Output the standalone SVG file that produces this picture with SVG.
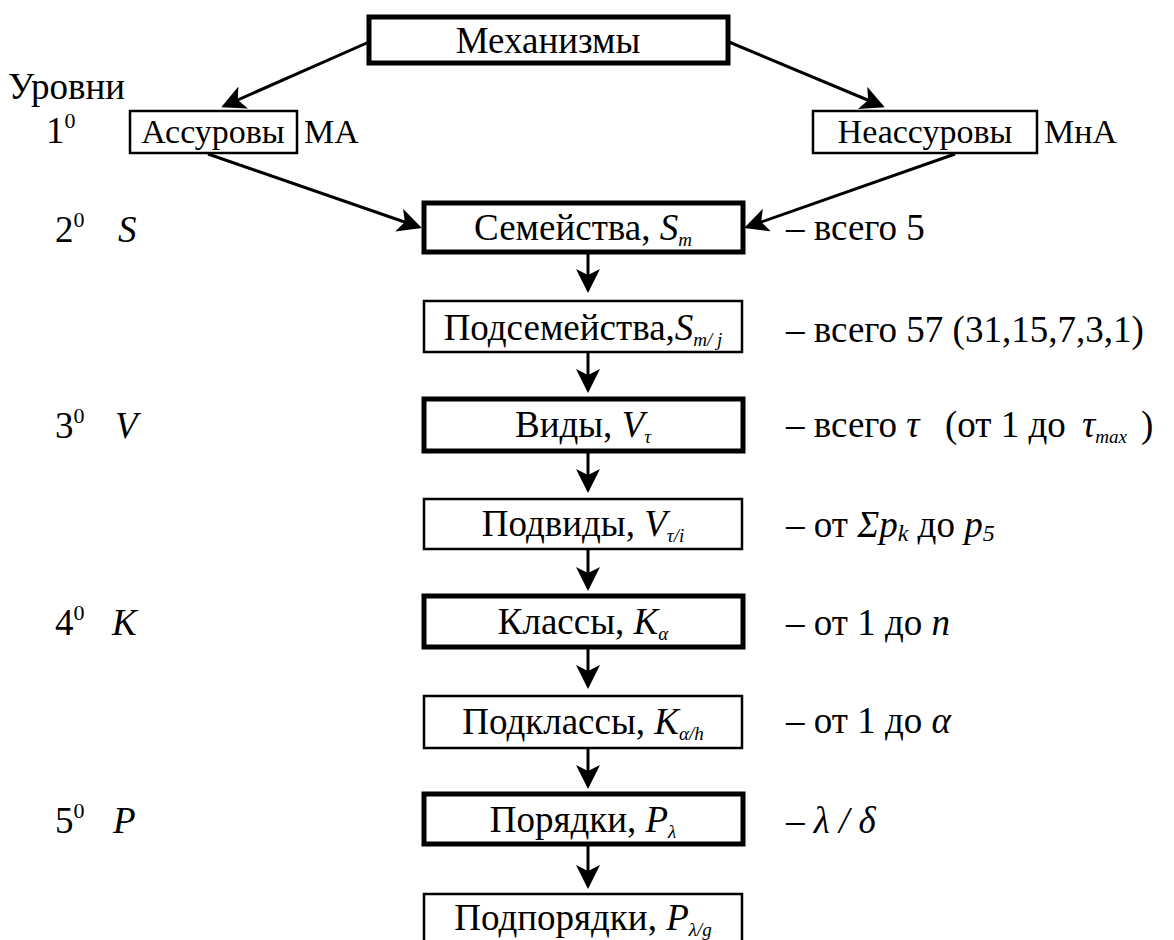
<svg xmlns="http://www.w3.org/2000/svg" width="1174" height="940" viewBox="0 0 1174 940" font-family="Liberation Serif">
<style>
text{font-family:"Liberation Serif","Times New Roman",serif;fill:#000;font-size:37px}
.r1{font-size:34px}
.i{font-style:italic}
.sub{font-style:italic;font-size:19px}
.sup{font-size:22px}
.thick{fill:#fff;stroke:#000;stroke-width:5}
.thin{fill:#fff;stroke:#000;stroke-width:2.5}
.c{text-anchor:middle}
.con{stroke:#000;stroke-width:3;fill:none;marker-end:url(#ah)}
</style>
<defs>
<marker id="ah" markerWidth="8" markerHeight="8" refX="7" refY="4" orient="auto" markerUnits="strokeWidth" viewBox="0 0 8 8">
<path d="M0,0 L8,4 L0,8 L2,4 z" fill="#000"/>
</marker>
</defs>
<rect width="1174" height="940" fill="#fff"/>
<g id="connectors">
<line class="con" x1="369" y1="42" x2="224" y2="106"/>
<line class="con" x1="729" y1="42" x2="882" y2="106"/>
<line class="con" x1="208" y1="154" x2="419" y2="227"/>
<line class="con" x1="955" y1="154" x2="747" y2="227"/>
<line class="con" x1="588" y1="254" x2="588" y2="290"/>
<line class="con" x1="588" y1="353" x2="588" y2="390"/>
<line class="con" x1="588" y1="451" x2="588" y2="490"/>
<line class="con" x1="588" y1="549" x2="588" y2="588"/>
<line class="con" x1="588" y1="648" x2="588" y2="686"/>
<line class="con" x1="588" y1="748" x2="588" y2="786"/>
<line class="con" x1="588" y1="846" x2="588" y2="886"/>
</g>
<g id="levels">
<text x="8" y="99">Уровни</text>
<text x="46" y="143">1<tspan class="sup" dy="-15">0</tspan></text>
<text x="55" y="242">2<tspan class="sup" dy="-15">0</tspan></text><text class="i" x="118" y="242">S</text>
<text x="55" y="438">3<tspan class="sup" dy="-15">0</tspan></text><text class="i" x="115" y="438">V</text>
<text x="55" y="635">4<tspan class="sup" dy="-15">0</tspan></text><text class="i" x="112" y="635">K</text>
<text x="55" y="833">5<tspan class="sup" dy="-15">0</tspan></text><text class="i" x="113" y="833">P</text>
</g>
<g id="n-mech"><rect class="thick" x="369" y="17" width="359" height="46"/><text class="c" x="548" y="53">Механизмы</text></g>
<g id="n-assur"><rect class="thin" x="130" y="111" width="167" height="42"/><text class="c r1" x="213" y="143">Ассуровы</text><text class="r1" x="304" y="143">МА</text></g>
<g id="n-neassur"><rect class="thin" x="813" y="111" width="224" height="42"/><text class="c r1" x="925" y="143">Неассуровы</text><text class="r1" x="1044" y="143">МнА</text></g>
<g id="n-sem"><rect class="thick" x="424" y="203" width="319" height="49"/><text class="c" x="583" y="240">Семейства, <tspan class="i">S</tspan><tspan class="sub" dy="6">m</tspan></text></g>
<g id="n-podsem"><rect class="thin" x="424" y="301" width="318" height="51"/><text class="c" x="583" y="340">Подсемейства,<tspan class="i">S</tspan><tspan class="sub" dy="6">m/ j</tspan></text></g>
<g id="n-vid"><rect class="thick" x="424" y="399" width="319" height="52"/><text class="c" x="583" y="437">Виды, <tspan class="i">V</tspan><tspan class="sub" dy="6">τ</tspan></text></g>
<g id="n-podvid"><rect class="thin" x="424" y="499" width="318" height="50"/><text class="c" x="583" y="536">Подвиды, <tspan class="i">V</tspan><tspan class="sub" dy="6">τ/i</tspan></text></g>
<g id="n-klass"><rect class="thick" x="424" y="596" width="319" height="51"/><text class="c" x="583" y="634">Классы, <tspan class="i">K</tspan><tspan class="sub" dy="6">α</tspan></text></g>
<g id="n-podklass"><rect class="thin" x="424" y="696" width="318" height="52"/><text class="c" x="583" y="734">Подклассы, <tspan class="i">K</tspan><tspan class="sub" dy="6">α/h</tspan></text></g>
<g id="n-poryad"><rect class="thick" x="424" y="794" width="319" height="50"/><text class="c" x="583" y="832">Порядки, <tspan class="i">P</tspan><tspan class="sub" dy="6">λ</tspan></text></g>
<g id="n-podporyad"><path class="thin" d="M424,942 V894 H742 V942"/><text class="c" x="583" y="930">Подпорядки, <tspan class="i">P</tspan><tspan class="sub" dy="6">λ/g</tspan></text></g>
<g id="notes">
<text x="786" y="240">– всего 5</text>
<text x="786" y="342">– всего 57 (31,15,7,3,1)</text>
<text x="786" y="437">– всего <tspan class="i">τ</tspan><tspan x="945">(от 1 до</tspan><tspan class="i" x="1082">τ</tspan><tspan class="sub" dy="6">max</tspan><tspan x="1141" dy="-6">)</tspan></text>
<text x="786" y="537">– от <tspan class="i">Σp</tspan><tspan class="i" font-size="24" dy="4">k</tspan><tspan dy="-4"> до </tspan><tspan class="i">p</tspan><tspan class="i" font-size="24" dy="4">5</tspan></text>
<text x="786" y="635">– от 1 до <tspan class="i">n</tspan></text>
<text x="786" y="733">– от 1 до <tspan class="i">α</tspan></text>
<text x="786" y="833">– <tspan class="i">λ / δ</tspan></text>
</g>
</svg>
